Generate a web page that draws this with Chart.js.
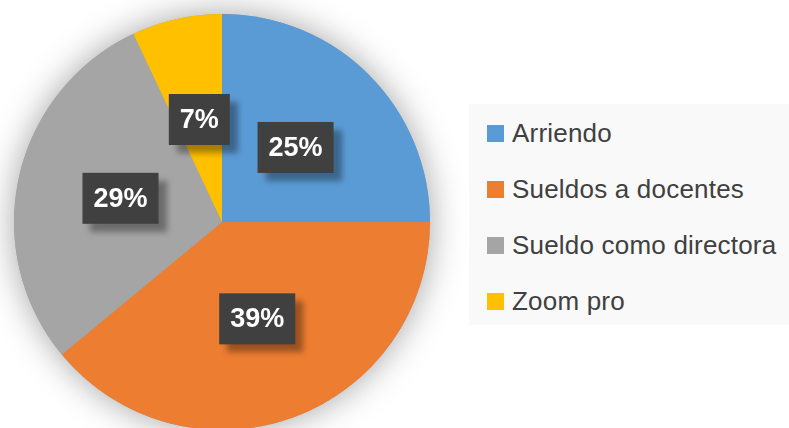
<!DOCTYPE html>
<html>
<head>
<meta charset="utf-8">
<script src="https://cdn.jsdelivr.net/npm/chart.js@4"></script>
<style>
  html,body{margin:0;padding:0;background:#fff;width:789px;height:428px;overflow:hidden;position:relative;font-family:"Liberation Sans",Arial,sans-serif;}
  #pieWrap{position:absolute;left:-26px;top:-26px;width:496px;height:496px;}
  #legend{position:absolute;left:469px;top:104px;width:330px;height:221px;background:#f9f9f9;}
  .item{position:absolute;left:18px;height:30px;display:flex;align-items:center;white-space:nowrap;}
  .swatch{width:17px;height:17px;margin-right:8px;}
  .txt{font-size:26px;color:#404040;letter-spacing:0.2px;}
</style>
</head>
<body>
<div id="pieWrap"><canvas id="pie"></canvas></div>
<div id="legend"></div>
<script>
// pie data
const categories = ['Arriendo','Sueldos a docentes','Sueldo como directora','Zoom pro'];
const values = [25, 39, 29, 7];
const colors = ['#5b9bd5','#ed7d31','#a5a5a5','#ffc000'];

document.addEventListener('DOMContentLoaded', ()=>{
  // html legend on the right, built from the same arrays
  const legendEl = document.getElementById('legend');
  categories.forEach((c,i)=>{
    const row = document.createElement('div');
    row.className = 'item';
    row.style.top = (14 + i*56) + 'px';
    row.innerHTML = `<div class="swatch" style="background:${colors[i]}"></div><span class="txt">${c}</span>`;
    legendEl.appendChild(row);
  });

  const total = values.reduce((a,b)=>a+b,0);

  // soft glow behind the whole pie
  const pieShadow = {
    id:'pieShadow',
    beforeDatasetsDraw(chart){
      const arc = chart.getDatasetMeta(0).data[0];
      if(!arc) return;
      const ctx = chart.ctx;
      ctx.save();
      ctx.shadowColor = 'rgba(0,0,0,0.36)';
      ctx.shadowBlur = 34;
      ctx.fillStyle = '#a5a5a5';
      ctx.beginPath();
      ctx.arc(arc.x, arc.y, arc.outerRadius, 0, Math.PI*2);
      ctx.fill();
      ctx.restore();
    }
  };

  // dark callout boxes with percentages
  const pctBoxes = {
    id:'pctBoxes',
    afterDatasetsDraw(chart){
      const ctx = chart.ctx;
      ctx.save();
      ctx.font = 'bold 27px "Liberation Sans", Arial, sans-serif';
      ctx.textAlign = 'center';
      ctx.textBaseline = 'middle';
      chart.getDatasetMeta(0).data.forEach((arc,i)=>{
        const p = arc.tooltipPosition();
        const label = Math.round(values[i]/total*100) + '%';
        const w = ctx.measureText(label).width + 22;
        const h = 51;
        ctx.save();
        ctx.shadowColor = 'rgba(0,0,0,0.35)';
        ctx.shadowBlur = 6;
        ctx.shadowOffsetX = 8;
        ctx.shadowOffsetY = 8;
        ctx.fillStyle = '#404040';
        ctx.fillRect(p.x - w/2, p.y - h/2 - 1, w, h);
        ctx.restore();
        ctx.fillStyle = '#ffffff';
        ctx.fillText(label, p.x, p.y);
      });
      ctx.restore();
    }
  };

  const ctx = document.getElementById('pie').getContext('2d');
  window._pie = new Chart(ctx,{
    type:'pie',
    data:{
      labels:categories,
      datasets:[{data:values, backgroundColor:colors, borderWidth:0}]
    },
    options:{
      responsive:true,
      maintainAspectRatio:false,
      animation:false,
      layout:{padding:40},
      plugins:{legend:{display:false}, tooltip:{enabled:false}}
    },
    plugins:[pieShadow, pctBoxes]
  });
});
</script>
</body>
</html>
